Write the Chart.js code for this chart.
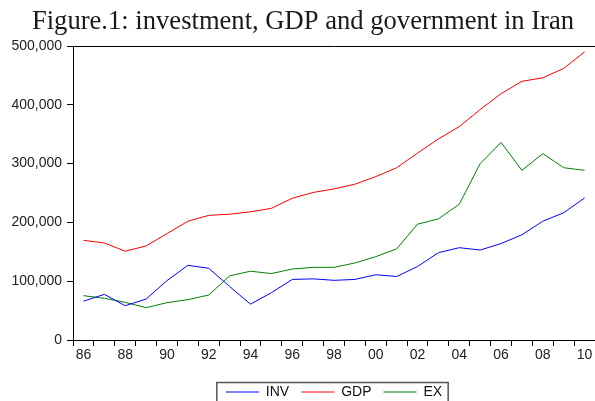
<!DOCTYPE html>
<html>
<head>
<meta charset="utf-8">
<script src="https://cdn.jsdelivr.net/npm/chart.js@4"></script>
<style>
  body { margin: 0; background: #fff; }
  #wrap { width: 595px; height: 401px; position: relative; }
</style>
</head>
<body>
<div id="wrap"><canvas id="linechart"></canvas></div>
<script>
const years = ['86', '87', '88', '89', '90', '91', '92', '93', '94', '95', '96', '97', '98',
    '99', '00', '01', '02', '03', '04', '05', '06', '07', '08', '09', '10'];

const inv = [66000, 77700, 58300, 69700, 101000, 127000, 122000, 91000, 61000, 80500,
    103000, 104000, 101500, 103000, 111000, 108000, 125000, 148500, 157000, 153000,
    164000, 179000, 202000, 216500, 241500];

const gdp = [169500, 165000, 151000, 160000, 181000, 202000, 212000, 214000, 218000, 224000,
    241000, 251000, 257000, 265000, 278000, 293000, 318000, 342000, 363000, 392000,
    419000, 440000, 446000, 462000, 490000];

const ex = [75400, 71000, 64000, 55000, 63500, 68600, 76500, 109000, 117000, 113000,
    120700, 123600, 123600, 131000, 141700, 155000, 197000, 206000, 231000, 300000,
    336000, 288600, 317000, 293000, 288600];

const yTicks = [0, 100000, 200000, 300000, 400000, 500000];

const tickFont = { family: "'Liberation Sans', Arial, sans-serif", size: 14 };

// top frame line + grey box round the legend, legend/title re-centred like EViews
const framePlugin = {
    id: 'frame',
    afterLayout(chart) {
        const area = chart.chartArea;
        if (chart.legend) {
            chart.legend.left = area.left;
            chart.legend.right = area.right;
        }
        if (chart.titleBlock) {
            chart.titleBlock.left = 11;
        }
    },
    afterDraw(chart) {
        const ctx = chart.ctx;
        const area = chart.chartArea;
        ctx.save();
        ctx.strokeStyle = '#000';
        ctx.lineWidth = 1;
        ctx.beginPath();
        ctx.moveTo(area.left, area.top + 0.5);
        ctx.lineTo(area.right + 5, area.top + 0.5);
        ctx.stroke();

        const boxes = chart.legend.legendHitBoxes;
        if (boxes && boxes.length) {
            const first = boxes[0];
            const last = boxes[boxes.length - 1];
            const left = first.left - 9;
            const right = last.left + last.width + 6;
            const top = first.top - 2.5;
            ctx.strokeStyle = '#555';
            ctx.lineWidth = 1.5;
            ctx.strokeRect(left, top, right - left, chart.height - top + 10);
        }
        ctx.restore();
    }
};

new Chart('linechart', {
    type: 'line',
    data: {
        labels: years,
        datasets: [
            { label: 'INV', data: inv, borderColor: '#0000ff', backgroundColor: '#0000ff' },
            { label: 'GDP', data: gdp, borderColor: '#ff0000', backgroundColor: '#ff0000' },
            { label: 'EX', data: ex, borderColor: '#008000', backgroundColor: '#008000' }
        ]
    },
    options: {
        responsive: true,
        maintainAspectRatio: false,
        animation: false,
        layout: { padding: { left: 0, right: 0, top: 0, bottom: -8 } },
        elements: {
            line: { borderWidth: 1, tension: 0, fill: false },
            point: { radius: 0, hoverRadius: 0 }
        },
        plugins: {
            title: {
                display: true,
                text: 'Figure.1: investment, GDP and government in Iran',
                color: '#1a1a1a',
                font: { family: "'Liberation Serif', 'Times New Roman', serif", size: 26.6, weight: 'normal', lineHeight: 1.2 },
                padding: { top: 6, bottom: 8.1 }
            },
            legend: {
                position: 'bottom',
                labels: {
                    usePointStyle: true,
                    pointStyle: 'line',
                    pointStyleWidth: 33,
                    padding: 12,
                    color: '#111',
                    font: tickFont
                }
            },
            tooltip: { enabled: false }
        },
        scales: {
            x: {
                offset: true,
                grid: {
                    offset: true,
                    drawOnChartArea: false,
                    drawTicks: true,
                    tickLength: 6,
                    color: '#000'
                },
                border: { color: '#000', width: 1 },
                ticks: {
                    autoSkip: false,
                    maxRotation: 0,
                    minRotation: 0,
                    padding: 1,
                    color: '#222',
                    font: tickFont,
                    callback: function (value, index) {
                        return index % 2 === 0 ? this.getLabelForValue(value) : '';
                    }
                },
                afterFit: function (scale) { scale.height = 33; }
            },
            y: {
                min: yTicks[0],
                max: yTicks[yTicks.length - 1],
                afterBuildTicks: function (scale) {
                    scale.ticks = yTicks.map(v => ({ value: v }));
                },
                grid: {
                    drawOnChartArea: false,
                    drawTicks: true,
                    tickLength: 6,
                    color: '#000'
                },
                border: { color: '#000', width: 1 },
                ticks: {
                    padding: 5,
                    color: '#222',
                    font: tickFont,
                    callback: v => v.toLocaleString('en-US')
                },
                afterFit: function (scale) { scale.width = 73; }
            }
        }
    },
    plugins: [framePlugin]
});
</script>
</body>
</html>
